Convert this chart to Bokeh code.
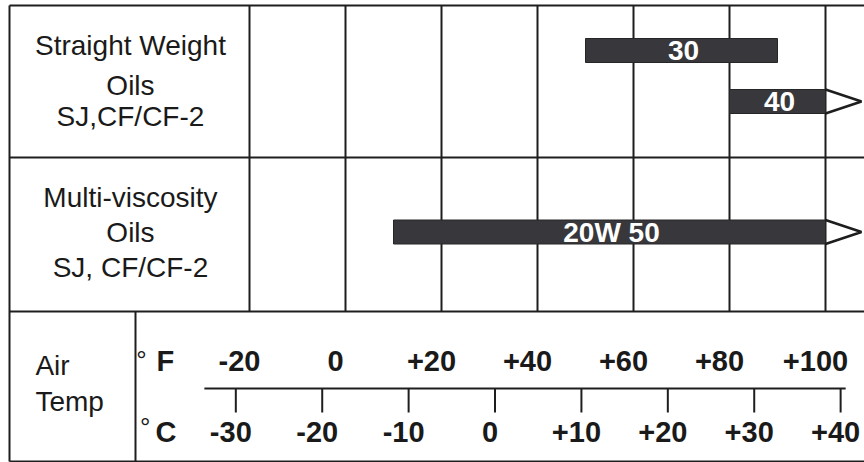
from bokeh.plotting import figure
from bokeh.models import Range1d, ColumnDataSource
from bokeh.core.properties import value
from bokeh.embed import file_html
from bokeh.resources import INLINE

# ---------------- data ----------------
grades = ["30", "40", "20W 50"]
grade_low_f = [50, 80, 10]
grade_high_f = [90, 100, 100]
grade_open_high = [False, True, True]

f_ticks = [-20, 0, 20, 40, 60, 80, 100]
f_labels = ["-20", "0", "+20", "+40", "+60", "+80", "+100"]
c_ticks = [-30, -20, -10, 0, 10, 20, 30, 40]
c_labels = ["-30", "-20", "-10", "0", "+10", "+20", "+30", "+40"]

row1_label = ["Straight Weight", "Oils", "SJ,CF/CF-2"]
row2_label = ["Multi-viscosity", "Oils", "SJ, CF/CF-2"]
temp_label = ["Air", "Temp"]

# ---------------- layout ----------------
W, H = 864, 462
PX_PER_F = 4.8
F_AT_X0 = -71.875
X_END = F_AT_X0 + W / PX_PER_F
LEFT = -70.0          # outer left border
SPLIT = -43.75        # divider in the temperature row
TOP, DIV1, DIV2, BOTTOM = 5, 157, 311, 461
BAR_Y = [50, 101, 231.5]
BAR_H = 24
ARROW_F = 7.5
C_DRAW_SHIFT = -0.85  # small drawing offset of the Celsius scale
LINE = "#1e1e1e"
TXT = "#1a1a1a"
FONT = value("Liberation Sans")

p = figure(width=W, height=H, output_backend="svg", toolbar_location=None,
           x_range=Range1d(F_AT_X0, X_END), y_range=Range1d(H, 0),
           min_border=0, outline_line_color=None)
p.axis.visible = False
p.grid.visible = False
p.background_fill_color = "white"
p.border_fill_color = "white"

# frame lines
hy = [TOP, DIV1, DIV2, BOTTOM]
p.segment(x0=[LEFT] * 4, y0=hy, x1=[X_END] * 4, y1=hy, line_color=LINE, line_width=2)
p.segment(x0=[LEFT, SPLIT], y0=[TOP, DIV2], x1=[LEFT, SPLIT], y1=[BOTTOM, BOTTOM],
          line_color=LINE, line_width=2)
# vertical grid in the oil rows
p.segment(x0=f_ticks, y0=[TOP] * len(f_ticks), x1=f_ticks, y1=[DIV2] * len(f_ticks),
          line_color=LINE, line_width=2)

# bars
src = ColumnDataSource(dict(
    left=grade_low_f, right=grade_high_f,
    y=BAR_Y, name=grades,
    cx=[(a + b) / 2 for a, b in zip(grade_low_f, grade_high_f)],
))
p.hbar(y="y", left="left", right="right", height=BAR_H, source=src,
       fill_color="#38383c", line_color="#262626", line_width=1)
p.text(x="cx", y="y", text="name", source=src, text_color="white",
       text_font=FONT, text_font_style="bold", text_font_size="28px",
       text_align="center", text_baseline="middle", x_offset=2)

# open-ended arrows
for hi, yy, op in zip(grade_high_f, BAR_Y, grade_open_high):
    if op:
        p.line(x=[hi, hi + ARROW_F, hi], y=[yy - BAR_H / 2, yy, yy + BAR_H / 2],
               line_color=LINE, line_width=2.5)

# row labels
p.text(x=[-44.8] * 3, y=[45, 85, 116], text=row1_label, text_font=FONT,
       text_font_size="28px", text_color=TXT, text_align="center",
       text_baseline="middle")
p.text(x=[-44.8] * 3, y=[197, 232, 267], text=row2_label, text_font=FONT,
       text_font_size="28px", text_color=TXT, text_align="center",
       text_baseline="middle")
p.text(x=[-64.6] * 2, y=[365, 401], text=temp_label, text_font=FONT,
       text_font_size="28px", text_color=TXT, text_align="left",
       text_baseline="middle")

# temperature scale
p.segment(x0=[-29.4], y0=[388], x1=[104.2], y1=[388], line_color=LINE, line_width=2)
c_as_f = [c * 1.8 + 32 + C_DRAW_SHIFT for c in c_ticks]
p.segment(x0=c_as_f, y0=[388] * len(c_as_f), x1=c_as_f, y1=[412] * len(c_as_f),
          line_color=LINE, line_width=2)
p.text(x=f_ticks, y=[360] * len(f_ticks), text=f_labels, text_font=FONT,
       text_font_style="bold", text_font_size="29px", text_color=TXT,
       text_align="center", text_baseline="middle", x_offset=-10)
p.text(x=c_as_f, y=[431] * len(c_as_f), text=c_labels, text_font=FONT,
       text_font_style="bold", text_font_size="29px", text_color=TXT,
       text_align="center", text_baseline="middle", x_offset=-5)

# unit labels
p.text(x=[-39.4, -39.6], y=[360, 431], text=["F", "C"], text_font=FONT,
       text_font_style="bold", text_font_size="29px", text_color=TXT,
       text_align="left", text_baseline="middle")
p.text(x=[-43.6, -42.8], y=[359, 426], text=["°", "°"], text_font=FONT,
       text_font_size="26px", text_color=TXT,
       text_align="left", text_baseline="alphabetic")

open("out.html", "w").write(file_html(p, INLINE))
